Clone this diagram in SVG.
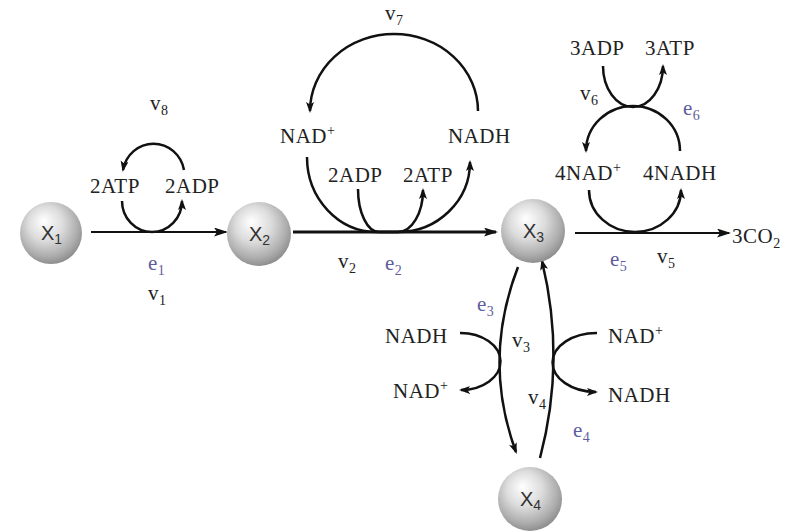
<svg xmlns="http://www.w3.org/2000/svg" width="792" height="532" viewBox="0 0 792 532">
<defs>
<radialGradient id="sph" cx="0.45" cy="0.4" r="0.62" fx="0.38" fy="0.3">
<stop offset="0" stop-color="#ffffff"/>
<stop offset="0.45" stop-color="#dcdcdc"/>
<stop offset="0.8" stop-color="#adadad"/>
<stop offset="1" stop-color="#8a8a8a"/>
</radialGradient>
<marker id="arr" markerUnits="userSpaceOnUse" markerWidth="16" markerHeight="10" refX="12" refY="4.5" orient="auto">
<path d="M0,0 L14,4.5 L0,9 L3,4.5 z" fill="#111"/>
</marker>
<marker id="arrS" markerUnits="userSpaceOnUse" markerWidth="14" markerHeight="9" refX="9" refY="4" orient="auto">
<path d="M0,0 L11,4 L0,8 L2.5,4 z" fill="#111"/>
</marker>
</defs>
<style>
.ln{fill:none;stroke:#111;stroke-width:2}
.lt{fill:none;stroke:#111;stroke-width:3}
.cv{fill:none;stroke:#111;stroke-width:2.5}
.t{font-family:"Liberation Serif","Times New Roman",serif;font-size:21px;fill:#222;letter-spacing:0.5px}
.e{fill:#5d5d9c}
.sub{font-size:14px}
.sup{font-size:14px}
.x{font-family:"Liberation Sans",Arial,sans-serif;font-size:20px;fill:#333}
.sph{fill:url(#sph)}
</style>
<rect width="792" height="532" fill="#ffffff"/>

<g id="connectors">
<path class="ln" d="M91,232 L226,232" marker-end="url(#arr)"/>
<path class="cv" d="M122,201 A30,31 0 0 0 182,201" marker-end="url(#arrS)"/>
<path class="cv" d="M184,170 A31,32 0 0 0 123,170" marker-end="url(#arrS)"/>
<path class="lt" d="M293,232 L496,232" marker-end="url(#arr)"/>
<path class="cv" d="M478,111 A84,77 0 0 0 310,111" marker-end="url(#arrS)"/>
<path class="cv" d="M307,157 A70,75 0 0 0 377,232 L398,232 A72,70 0 0 0 470,162" marker-end="url(#arrS)"/>
<path class="cv" d="M358,189 A21,43 0 0 0 379,232 L398,232 A25,42 0 0 0 423,190" marker-end="url(#arrS)"/>
<path class="ln" d="M575,233 L729,233" marker-end="url(#arr)"/>
<path class="cv" d="M589,190 A46,42 0 0 0 681,190" marker-end="url(#arrS)"/>
<path class="cv" d="M680,151 A47,45 0 0 0 586,151" marker-end="url(#arrS)"/>
<path class="cv" d="M603,66 A30,41 0 0 0 663,66" marker-end="url(#arrS)"/>
<path class="cv" d="M518,267 Q482,360 516,452" marker-end="url(#arrS)"/>
<path class="cv" d="M540,458 Q566,360 542,261" marker-end="url(#arrS)"/>
<path class="cv" d="M460,333 A40,28.5 0 0 1 461,390" marker-end="url(#arrS)"/>
<path class="cv" d="M597,333 A44,29.5 0 0 0 596,392" marker-end="url(#arrS)"/>
</g>

<g id="X1"><circle class="sph" cx="51" cy="233" r="31"/><text class="x" x="41" y="240">X<tspan class="sub" dy="4">1</tspan></text></g>
<g id="X2"><circle class="sph" cx="259" cy="234" r="32"/><text class="x" x="249" y="241">X<tspan class="sub" dy="4">2</tspan></text></g>
<g id="X3"><circle class="sph" cx="533" cy="231" r="32"/><text class="x" x="523" y="238">X<tspan class="sub" dy="4">3</tspan></text></g>
<g id="X4"><circle class="sph" cx="530" cy="499" r="32"/><text class="x" x="520" y="506">X<tspan class="sub" dy="4">4</tspan></text></g>

<g id="labels">
<text class="t" x="150" y="110">v<tspan class="sub" dy="5">8</tspan></text>
<text class="t" x="90" y="193">2ATP</text>
<text class="t" x="165" y="193">2ADP</text>
<text class="t e" x="148" y="270">e<tspan class="sub" dy="5">1</tspan></text>
<text class="t" x="148" y="300">v<tspan class="sub" dy="5">1</tspan></text>

<text class="t" x="385" y="20">v<tspan class="sub" dy="5">7</tspan></text>
<text class="t" x="280" y="143">NAD<tspan class="sup" dy="-8">+</tspan></text>
<text class="t" x="448" y="143">NADH</text>
<text class="t" x="328" y="182">2ADP</text>
<text class="t" x="403" y="182">2ATP</text>
<text class="t" x="338" y="268">v<tspan class="sub" dy="5">2</tspan></text>
<text class="t e" x="385" y="270">e<tspan class="sub" dy="5">2</tspan></text>

<text class="t" x="570" y="55">3ADP</text>
<text class="t" x="645" y="55">3ATP</text>
<text class="t" x="580" y="100">v<tspan class="sub" dy="5">6</tspan></text>
<text class="t e" x="683" y="115">e<tspan class="sub" dy="5">6</tspan></text>
<text class="t" x="555" y="180">4NAD<tspan class="sup" dy="-8">+</tspan></text>
<text class="t" x="643" y="180">4NADH</text>
<text class="t" x="732" y="243">3CO<tspan class="sub" dy="5">2</tspan></text>
<text class="t e" x="610" y="266">e<tspan class="sub" dy="5">5</tspan></text>
<text class="t" x="657" y="263">v<tspan class="sub" dy="5">5</tspan></text>

<text class="t e" x="477" y="311">e<tspan class="sub" dy="5">3</tspan></text>
<text class="t" x="385" y="343">NADH</text>
<text class="t" x="393" y="398">NAD<tspan class="sup" dy="-8">+</tspan></text>
<text class="t" x="512" y="347">v<tspan class="sub" dy="5">3</tspan></text>
<text class="t" x="608" y="343">NAD<tspan class="sup" dy="-8">+</tspan></text>
<text class="t" x="608" y="402">NADH</text>
<text class="t" x="528" y="404">v<tspan class="sub" dy="5">4</tspan></text>
<text class="t e" x="573" y="437">e<tspan class="sub" dy="5">4</tspan></text>
</g>
</svg>
